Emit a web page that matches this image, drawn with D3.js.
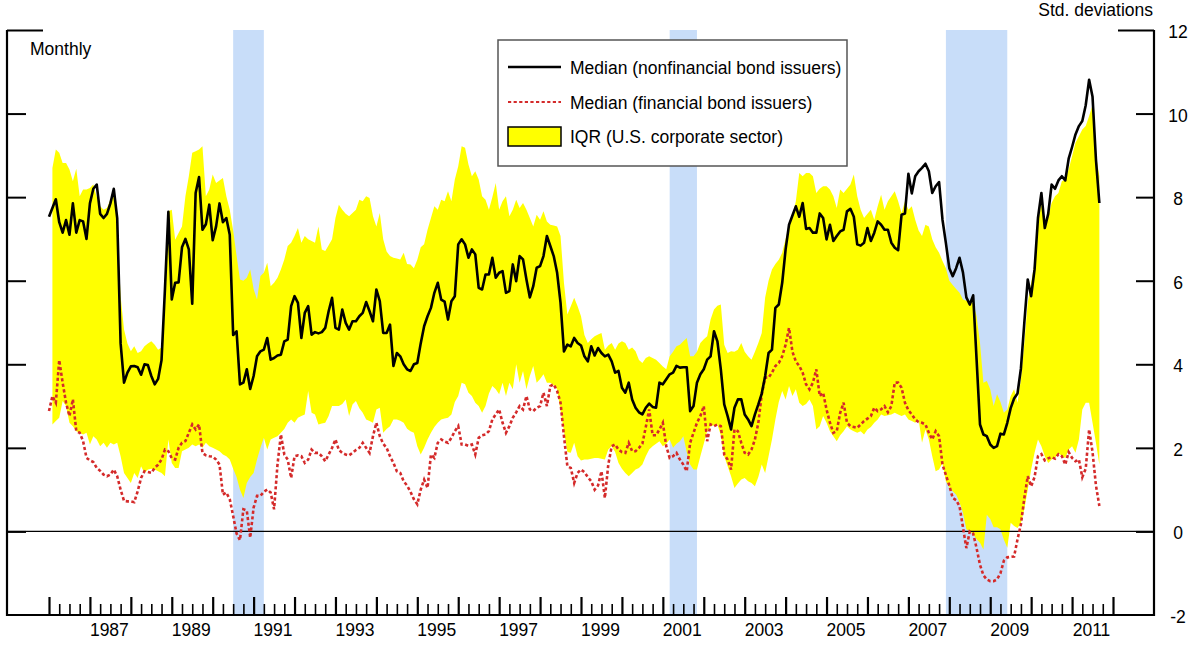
<!DOCTYPE html>
<html><head><meta charset="utf-8">
<script src="https://cdn.jsdelivr.net/npm/d3@7"></script>
<style>
body{margin:0;background:#fff;}
svg{display:block;font-family:"Liberation Sans",Arial,sans-serif;}
</style></head><body>
<svg id="chart" width="1195" height="650"></svg>
<script>
// Monthly data starting January 1986
const startYear = 1986;

// Median (nonfinancial bond issuers)
const nonfin = [
 7.53, 7.74, 7.95, 7.4, 7.15, 7.45, 7.1, 7.85, 7.15, 7.45, 7.42, 7.0,
 7.85, 8.2, 8.3, 7.6, 7.5, 7.6, 7.85, 8.2, 7.5, 4.5, 3.56, 3.8,
 3.95, 3.96, 3.93, 3.75, 4.0, 3.98, 3.72, 3.52, 3.65, 4.1, 5.8, 7.65,
 5.55, 5.95, 5.96, 6.8, 7.0, 6.75, 5.45, 8.1, 8.48, 7.22, 7.35, 7.82,
 6.97, 7.3, 7.85, 7.4, 7.5, 7.1, 4.7, 4.79, 3.52, 3.56, 3.88, 3.41,
 3.72, 4.19, 4.31, 4.35, 4.63, 4.11, 4.15, 4.21, 4.23, 4.55, 4.59, 5.39,
 5.63, 5.47, 4.63, 5.23, 5.39, 4.71, 4.77, 4.74, 4.77, 4.87, 5.27, 5.59,
 4.87, 4.83, 5.31, 4.99, 4.83, 5.03, 5.03, 5.15, 5.23, 5.49, 5.27, 5.03,
 5.79, 5.51, 4.75, 4.75, 4.95, 3.96, 4.27, 4.19, 4.0, 3.88, 3.84, 4.0,
 4.03, 4.5, 4.91, 5.15, 5.35, 5.71, 5.95, 5.55, 5.5, 5.07, 5.51, 5.63,
 6.87, 6.99, 6.87, 6.55, 6.75, 6.63, 5.83, 5.79, 6.15, 6.15, 6.55, 6.07,
 6.19, 6.23, 5.71, 5.75, 6.39, 5.99, 6.59, 6.51, 6.03, 5.6, 5.87, 6.31,
 6.35, 6.59, 7.07, 6.83, 6.59, 6.19, 5.47, 4.31, 4.47, 4.43, 4.63, 4.51,
 4.45, 4.19, 4.07, 4.43, 4.21, 4.39, 4.27, 4.19, 4.23, 4.07, 3.8, 3.84,
 3.44, 3.32, 3.56, 3.16, 2.96, 2.85, 2.8, 2.96, 3.06, 2.98, 2.96, 3.56,
 3.52, 3.64, 3.76, 3.8, 3.96, 3.92, 3.93, 3.93, 2.88, 3.0, 3.56, 3.76,
 3.88, 4.11, 4.19, 4.79, 4.55, 3.88, 3.04, 2.76, 2.44, 2.96, 3.16, 3.16,
 2.8, 2.68, 2.52, 2.8, 3.04, 3.3, 3.72, 4.27, 4.35, 5.35, 5.43, 5.95,
 6.75, 7.34, 7.56, 7.78, 7.53, 7.86, 7.24, 7.26, 7.15, 7.15, 7.61, 7.5,
 6.99, 7.34, 6.95, 7.07, 7.18, 7.22, 7.66, 7.72, 7.53, 6.87, 6.84, 6.91,
 7.26, 6.95, 7.15, 7.42, 7.34, 7.22, 7.22, 6.91, 6.79, 6.73, 7.58, 7.61,
 8.56, 8.09, 8.5, 8.62, 8.7, 8.8, 8.62, 8.1, 8.26, 8.36, 7.46, 6.9,
 6.3, 6.11, 6.3, 6.55, 6.2, 5.6, 5.43, 5.65, 4.11, 2.56, 2.32, 2.28,
 2.08, 2.0, 2.04, 2.34, 2.32, 2.6, 2.95, 3.18, 3.3, 3.9, 5.0, 6.03,
 5.63, 6.27, 7.5, 8.1, 7.26, 7.6, 8.3, 8.2, 8.4, 8.5, 8.4, 8.92,
 9.2, 9.5, 9.7, 9.82, 10.2, 10.81, 10.4, 8.9, 7.86
];

// Median (financial bond issuers)
const fin = [
 2.88, 3.24, 3.08, 4.1, 3.56, 3.08, 2.76, 3.16, 2.4, 2.36, 2.16, 1.76,
 1.7, 1.66, 1.52, 1.45, 1.36, 1.32, 1.36, 1.48, 1.32, 1.0, 0.73, 0.72,
 0.72, 0.7, 0.96, 1.28, 1.44, 1.42, 1.4, 1.52, 1.6, 1.72, 1.96, 1.92,
 1.75, 1.72, 2.0, 2.12, 2.16, 2.36, 2.56, 2.44, 2.56, 1.88, 1.82, 1.8,
 1.79, 1.72, 1.6, 0.88, 0.93, 0.77, 0.37, -0.05, -0.21, 0.53, 0.5, -0.15,
 0.57, 0.85, 0.85, 0.95, 1.0, 0.93, 0.53, 1.6, 2.32, 1.84, 1.72, 1.28,
 1.8, 1.82, 1.8, 1.64, 1.72, 1.96, 1.88, 1.88, 1.8, 1.68, 1.84, 2.0,
 2.2, 1.95, 1.88, 1.84, 1.82, 1.88, 1.95, 2.0, 2.12, 2.0, 1.88, 2.28,
 2.6, 2.28, 2.1, 2.0, 1.8, 1.64, 1.44, 1.4, 1.2, 1.1, 0.95, 0.77,
 0.65, 1.0, 1.24, 1.04, 1.84, 1.76, 2.12, 2.2, 2.15, 2.12, 2.24, 2.4,
 2.52, 2.08, 2.08, 2.05, 2.08, 1.84, 2.24, 2.3, 2.32, 2.4, 2.68, 2.8,
 2.92, 2.6, 2.36, 2.52, 2.72, 2.85, 3.0, 2.92, 3.24, 2.92, 2.88, 2.96,
 3.0, 3.32, 3.0, 3.48, 3.52, 3.36, 3.08, 2.28, 1.56, 1.52, 1.16, 1.4,
 1.48, 1.42, 1.3, 1.2, 1.0, 1.1, 1.44, 0.8, 1.6, 2.04, 2.08, 1.96,
 1.9, 1.88, 2.12, 1.92, 1.92, 2.0, 2.1, 2.5, 2.92, 2.3, 2.3, 2.44,
 2.6, 2.04, 1.76, 1.8, 1.88, 1.72, 1.6, 1.44, 2.12, 2.36, 2.6, 2.76,
 3.0, 2.16, 2.56, 2.52, 2.56, 2.52, 1.84, 1.72, 1.48, 2.44, 2.4, 2.12,
 1.88, 1.84, 1.96, 2.2, 2.6, 3.28, 3.68, 3.68, 3.8, 3.96, 4.03, 4.19,
 4.47, 4.87, 4.3, 4.07, 3.96, 3.8, 3.52, 3.4, 3.56, 3.88, 3.24, 3.32,
 2.92, 2.6, 2.36, 2.4, 2.84, 3.08, 2.6, 2.52, 2.5, 2.48, 2.56, 2.64,
 2.7, 2.76, 2.96, 2.88, 2.92, 3.0, 2.85, 3.0, 3.56, 3.56, 3.44, 3.08,
 2.9, 2.8, 2.68, 2.62, 2.6, 2.56, 2.36, 2.2, 2.4, 2.28, 1.6, 1.35,
 1.1, 0.8, 0.75, 0.6, 0.1, -0.4, 0.0, -0.05, -0.4, -0.8, -1.05, -1.15,
 -1.19, -1.19, -1.15, -1.0, -0.7, -0.62, -0.61, -0.6, -0.19, 0.17, 0.8, 1.32,
 1.08, 1.3, 1.8, 1.85, 1.7, 1.75, 1.78, 1.74, 1.85, 1.8, 1.6, 1.9,
 1.76, 1.68, 1.72, 1.3, 1.5, 2.44, 1.9, 1.1, 0.61
];

// IQR (U.S. corporate sector): 25th and 75th percentiles
const iqrLow = [
 null, 2.56, 2.64, 2.72, 3.12, 3.0, 2.6, 2.52, 2.4, 2.36, 2.32, 2.36,
 2.08, 2.28, 2.2, 2.04, 2.12, 2.0, 2.12, 2.08, 2.12, 1.8, 1.4, 1.28,
 1.16, 1.4, 1.28, 1.56, 1.4, 1.48, 1.5, 1.48, 1.44, 1.4, 1.32, 2.2,
 1.64, 1.52, 1.52, 1.92, 1.96, 2.0, 2.08, 2.04, 2.08, 2.0, 2.12, 2.04,
 2.0, 1.96, 1.92, 1.84, 1.8, 1.72, 1.5, 1.3, 1.0, 0.8, 1.16, 1.3,
 1.4, 1.72, 2.0, 2.24, 1.96, 2.2, 2.24, 2.28, 2.36, 2.45, 2.6, 2.68,
 2.6, 2.72, 2.76, 2.8, 3.36, 2.84, 2.8, 2.56, 2.58, 2.6, 2.76, 3.0,
 3.0, 3.0, 3.05, 3.16, 2.76, 3.04, 3.12, 2.95, 2.84, 2.68, 2.64, 2.6,
 2.92, 2.96, 2.36, 2.45, 2.52, 2.68, 2.68, 2.65, 2.6, 2.46, 2.4, 2.36,
 2.04, 1.84, 2.0, 2.2, 2.36, 2.5, 2.6, 2.68, 2.7, 2.72, 2.8, 3.1,
 3.24, 3.56, 3.52, 3.32, 3.24, 3.08, 3.0, 2.84, 3.0, 3.3, 3.48, 3.4,
 3.28, 3.56, 3.24, 3.56, 3.4, 4.0, 3.56, 3.84, 3.4, 3.72, 3.96, 3.56,
 3.65, 3.76, 3.56, 3.56, 3.5, 3.4, 2.9, 2.4, 1.9, 1.88, 2.12, 1.8,
 1.7, 1.72, 1.72, 1.74, 1.76, 1.76, 1.74, 1.72, 1.96, 2.04, 1.9, 1.64,
 1.5, 1.4, 1.32, 1.4, 1.48, 1.52, 1.6, 1.8, 1.96, 2.04, 2.1, 2.16,
 2.04, 2.1, 2.2, 2.0, 2.1, 2.16, 2.28, 1.9, 1.6, 1.48, 1.48, 1.8,
 2.1, 2.4, 2.52, 2.54, 2.56, 2.3, 1.8, 1.56, 1.32, 1.04, 1.15, 1.24,
 1.28, 1.2, 1.16, 1.08, 1.3, 1.6, 1.4, 1.8, 2.2, 2.68, 3.1, 3.36,
 3.16, 3.48, 3.24, 3.4, 3.08, 3.0, 3.05, 3.16, 3.0, 2.44, 2.52, 2.76,
 2.6, 2.4, 2.28, 2.16, 2.3, 2.4, 2.52, 2.44, 2.4, 2.36, 2.4, 2.32,
 2.44, 2.5, 2.6, 2.68, 2.8, 2.76, 2.78, 2.8, 2.84, 2.8, 2.76, 2.8,
 2.68, 2.64, 2.6, 2.68, 2.12, 2.44, 2.2, 1.8, 1.44, 1.48, 1.64, 1.2,
 1.05, 0.96, 0.88, 0.7, 0.45, 0.05, 0.01, -0.07, -0.19, -0.27, -0.43, 0.4,
 0.3, 0.1, 0.1, 0.05, -0.2, -0.39, 0.21, 0.13, 0.08, 0.2, 0.53, 1.0,
 1.48, 1.88, 2.2, 2.04, 1.8, 1.64, 1.72, 1.76, 1.88, 1.8, 1.76, 1.96,
 2.04, 1.88, 2.2, 2.92, 3.08, 3.08, 2.6, 2.12, 1.6
];
const iqrHigh = [
 null, 8.7, 9.14, 9.06, 8.82, 8.82, 8.66, 8.38, 8.68, 8.02, 8.18, 8.18,
 8.22, 8.3, 8.0, 7.78, 7.7, 7.74, 7.94, 8.18, 7.3, 5.63, 4.83, 4.5,
 4.31, 4.43, 4.27, 4.31, 4.43, 4.5, 4.55, 4.47, 4.35, 4.4, 5.31, 7.66,
 7.7, 6.98, 7.14, 7.3, 8.02, 8.5, 9.06, 9.1, 9.14, 9.22, 8.02, 8.18,
 8.54, 8.34, 8.4, 8.46, 8.02, 7.7, 7.2, 6.6, 6.03, 6.0, 6.07, 6.27,
 5.8, 5.55, 6.11, 6.19, 6.43, 5.87, 5.95, 6.07, 6.27, 6.51, 6.83, 6.91,
 7.07, 7.26, 6.91, 7.07, 6.99, 6.95, 6.91, 7.3, 6.75, 6.71, 6.85, 6.99,
 7.5, 7.82, 7.7, 7.6, 7.54, 7.62, 7.7, 7.94, 7.9, 8.02, 7.98, 7.54,
 7.3, 7.62, 6.99, 6.7, 6.59, 6.55, 6.53, 6.51, 6.67, 6.4, 6.39, 6.3,
 6.5, 6.8, 6.87, 7.22, 7.5, 7.78, 7.7, 7.94, 7.9, 8.14, 7.9, 8.42,
 8.74, 9.22, 9.18, 8.78, 8.5, 8.62, 8.42, 8.02, 7.94, 7.7, 8.0, 8.34,
 7.7, 7.9, 8.02, 7.54, 7.7, 7.94, 7.74, 7.86, 7.7, 7.5, 7.3, 7.58,
 7.46, 7.66, 7.42, 7.34, 7.32, 7.3, 7.07, 5.95, 5.19, 5.39, 5.59, 5.39,
 5.15, 4.7, 4.51, 4.6, 4.67, 4.71, 4.75, 4.35, 4.45, 4.51, 4.35, 4.5,
 4.55, 4.51, 4.35, 4.4, 4.31, 4.1, 4.03, 4.15, 4.19, 4.15, 4.11, 4.03,
 3.95, 3.88, 4.19, 4.3, 4.43, 4.47, 4.55, 4.63, 4.19, 4.19, 4.3, 4.51,
 4.6, 4.67, 5.07, 5.31, 5.4, 5.43, 4.47, 4.27, 4.31, 4.3, 4.35, 4.51,
 4.3, 4.19, 4.11, 4.3, 4.51, 4.75, 5.6, 6.0, 6.27, 6.4, 6.5, 6.67,
 7.0, 7.3, 7.54, 7.9, 8.58, 8.5, 8.58, 8.58, 8.5, 8.1, 8.2, 8.26,
 8.26, 8.18, 8.02, 7.74, 8.18, 8.1, 8.2, 8.3, 8.54, 8.02, 7.7, 7.5,
 7.6, 7.7, 7.46, 7.78, 8.06, 7.7, 7.9, 8.02, 8.14, 7.9, 7.62, 7.9,
 7.7, 7.78, 7.46, 7.2, 7.07, 7.34, 7.3, 6.99, 6.8, 6.67, 6.47, 6.3,
 6.0, 5.9, 5.8, 5.71, 5.55, 5.52, 5.5, 5.47, 5.15, 4.51, 3.56, 3.6,
 3.4, 3.0, 3.28, 3.1, 2.84, 2.92, 3.24, 3.4, 3.08, 3.64, 4.51, 5.47,
 5.95, 6.43, 7.38, 7.86, 7.22, 7.54, 7.86, 8.02, 8.1, 8.38, 8.42, 8.66,
 8.98, 9.3, 9.46, 9.62, 9.7, 9.94, 10.2, 9.0, 8.5
];

// NBER recessions (shaded)
const recessionStart = ["1990-07", "2001-03", "2007-12"];
const recessionEnd = ["1991-04", "2001-11", "2009-06"];

// Axis labels
const yearLabels = [1987, 1989, 1991, 1993, 1995, 1997, 1999, 2001, 2003, 2005, 2007, 2009, 2011];
const yTickValues = [-2, 0, 2, 4, 6, 8, 10, 12];
const legendLabels = ["Median (nonfinancial bond issuers)", "Median (financial bond issuers)", "IQR (U.S. corporate sector)"];

// ---------------------------------------------------------------
const svg = d3.select("#chart");
const x = d3.scaleLinear().domain([1986, 2012]).range([49, 1113]);
const y = d3.scaleLinear().domain([-2, 12]).range([615, 30]);
const leftX = 7, rightX = 1154;
const monthToYear = s => { const [yy, mm] = s.split("-").map(Number); return yy + (mm - 1) / 12; };
const t = i => startYear + i / 12;

const rows = nonfin.map((v, i) => ({ t: t(i), nf: v, f: fin[i], lo: iqrLow[i], hi: iqrHigh[i] }));

// recession bands
svg.append("g").selectAll("rect").data(recessionStart.map((s, i) => [monthToYear(s), monthToYear(recessionEnd[i])]))
  .join("rect")
  .attr("x", d => x(d[0])).attr("width", d => x(d[1]) - x(d[0]))
  .attr("y", y(12)).attr("height", y(-2) - y(12))
  .attr("fill", "#c8ddf9");

// IQR area
svg.append("path")
  .datum(rows)
  .attr("fill", "#ffff00")
  .attr("d", d3.area().defined(d => d.lo != null && d.hi != null)
    .x(d => x(d.t)).y0(d => y(d.lo)).y1(d => y(d.hi)));

// zero line
svg.append("line")
  .attr("x1", leftX).attr("x2", rightX).attr("y1", y(0)).attr("y2", y(0))
  .attr("stroke", "#000").attr("stroke-width", 1.3);

// financial median (dashed red)
svg.append("path")
  .datum(rows)
  .attr("fill", "none").attr("stroke", "#d42a2a").attr("stroke-width", 2.6)
  .attr("stroke-dasharray", "3.2,2.4")
  .attr("d", d3.line().x(d => x(d.t)).y(d => y(d.f)));

// nonfinancial median (black)
svg.append("path")
  .datum(rows)
  .attr("fill", "none").attr("stroke", "#000").attr("stroke-width", 2.6)
  .attr("stroke-linejoin", "round")
  .attr("d", d3.line().x(d => x(d.t)).y(d => y(d.nf)));

// ---------- axes ----------
const axisStyle = g => { g.select(".domain").remove(); g.selectAll(".tick line").attr("stroke", "#000"); g.selectAll("text").remove(); };

// bottom axis: major (years) and minor (quarters)
const years = d3.range(1986, 2013);
const quarters = d3.range(1986, 2012, 0.25).filter(v => v % 1 !== 0);
svg.append("g").attr("transform", `translate(0,${y(-2)})`)
  .call(d3.axisTop(x).tickValues(quarters).tickSize(11).tickFormat(""))
  .call(axisStyle).selectAll(".tick line").attr("stroke-width", 1.6);
svg.append("g").attr("transform", `translate(0,${y(-2)})`)
  .call(d3.axisTop(x).tickValues(years).tickSize(18).tickFormat(""))
  .call(axisStyle).selectAll(".tick line").attr("stroke-width", 2.2);

// left axis ticks
const leftAx = svg.append("g").attr("transform", `translate(${leftX},0)`)
  .call(d3.axisRight(y).tickValues(yTickValues.filter(v => v > -2)).tickSize(19).tickFormat(""))
  .call(axisStyle);
leftAx.selectAll(".tick line").attr("stroke-width", 2).attr("x2", d => d === 12 ? 36 : 19);

// right axis ticks
const rightAx = svg.append("g").attr("transform", `translate(${rightX},0)`)
  .call(d3.axisLeft(y).tickValues(yTickValues.filter(v => v > -2)).tickSize(18).tickFormat(""))
  .call(axisStyle);
rightAx.selectAll(".tick line").attr("stroke-width", 2).attr("x2", d => d === 12 ? -36 : -18);

// frame lines
svg.append("line").attr("x1", leftX).attr("x2", leftX).attr("y1", y(12)).attr("y2", y(-2) + 1)
  .attr("stroke", "#000").attr("stroke-width", 2.2);
svg.append("line").attr("x1", rightX).attr("x2", rightX).attr("y1", y(12)).attr("y2", y(-2) + 1)
  .attr("stroke", "#000").attr("stroke-width", 2.2);
svg.append("line").attr("x1", leftX).attr("x2", rightX).attr("y1", y(-2)).attr("y2", y(-2))
  .attr("stroke", "#000").attr("stroke-width", 2.2);

// right tick labels
svg.append("g").selectAll("text").data(yTickValues).join("text")
  .attr("x", 1178).attr("y", d => y(d) + 8)
  .attr("text-anchor", "middle").attr("font-size", 17.5).attr("fill", "#000")
  .text(d => d);

// year labels
svg.append("g").selectAll("text").data(yearLabels).join("text")
  .attr("x", d => x(d + 0.5) - 1).attr("y", 636)
  .attr("text-anchor", "middle").attr("font-size", 17.5).attr("fill", "#000")
  .text(d => d);

// titles
svg.append("text").attr("x", 1153).attr("y", 16).attr("text-anchor", "end")
  .attr("font-size", 17.5).attr("fill", "#000").text("Std. deviations");
svg.append("text").attr("x", 30).attr("y", 55)
  .attr("font-size", 17.5).attr("fill", "#000").text("Monthly");

// ---------- legend ----------
const lg = svg.append("g").attr("transform", "translate(498,40)");
lg.append("rect").attr("width", 349).attr("height", 126)
  .attr("fill", "#fff").attr("stroke", "#555").attr("stroke-width", 1.5);
const rowY = [27, 62, 96];
lg.append("line").attr("x1", 10).attr("x2", 63).attr("y1", rowY[0]).attr("y2", rowY[0])
  .attr("stroke", "#000").attr("stroke-width", 2.6);
lg.append("line").attr("x1", 10).attr("x2", 63).attr("y1", rowY[1]).attr("y2", rowY[1])
  .attr("stroke", "#d42a2a").attr("stroke-width", 2.2).attr("stroke-dasharray", "3.2,2.4");
lg.append("rect").attr("x", 10).attr("y", rowY[2] - 9).attr("width", 53).attr("height", 19)
  .attr("fill", "#ffff00").attr("stroke", "#000").attr("stroke-width", 1.5);
lg.selectAll("text.lab").data(legendLabels).join("text").attr("class", "lab")
  .attr("x", 72).attr("y", (d, i) => rowY[i] + 7)
  .attr("font-size", 17.5).attr("fill", "#000").text(d => d);
</script>
</body></html>
